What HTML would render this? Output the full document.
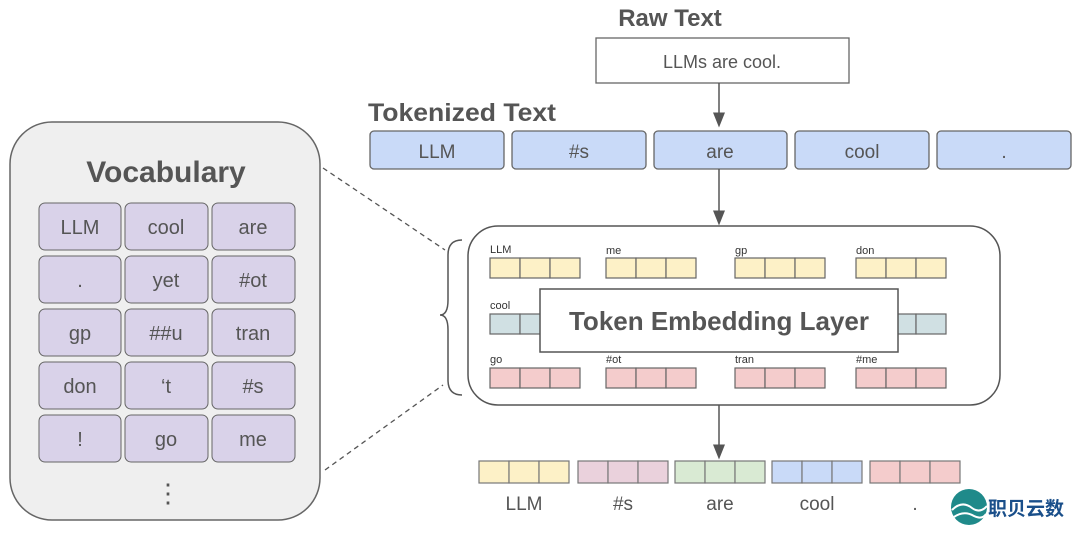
<!DOCTYPE html>
<html><head><meta charset="utf-8"><style>
body{margin:0;background:#fff;width:1080px;height:533px;overflow:hidden}
svg{display:block}
text{font-family:"Liberation Sans",Arial,sans-serif;fill:#555}
</style></head><body>
<svg width="1080" height="533" viewBox="0 0 1080 533" xmlns="http://www.w3.org/2000/svg">
<defs><marker id="a" markerWidth="10" markerHeight="10" refX="5" refY="5" orient="auto"><path d="M0,1 L10,5 L0,9z" fill="#555"/></marker></defs>
<rect x="10" y="122" width="310" height="398" rx="42" fill="#efefef" stroke="#666" stroke-width="1.5"/>
<text x="166" y="182" font-size="30" font-weight="bold" text-anchor="middle">Vocabulary</text>
<g fill="#d9d2e9" stroke="#666" stroke-width="1">
<rect x="39" y="203" width="82" height="47" rx="6"/><rect x="125" y="203" width="83" height="47" rx="6"/><rect x="212" y="203" width="83" height="47" rx="6"/>
<rect x="39" y="256" width="82" height="47" rx="6"/><rect x="125" y="256" width="83" height="47" rx="6"/><rect x="212" y="256" width="83" height="47" rx="6"/>
<rect x="39" y="309" width="82" height="47" rx="6"/><rect x="125" y="309" width="83" height="47" rx="6"/><rect x="212" y="309" width="83" height="47" rx="6"/>
<rect x="39" y="362" width="82" height="47" rx="6"/><rect x="125" y="362" width="83" height="47" rx="6"/><rect x="212" y="362" width="83" height="47" rx="6"/>
<rect x="39" y="415" width="82" height="47" rx="6"/><rect x="125" y="415" width="83" height="47" rx="6"/><rect x="212" y="415" width="83" height="47" rx="6"/>
</g>
<g font-size="20" text-anchor="middle">
<text x="80" y="234">LLM</text><text x="166" y="234">cool</text><text x="253" y="234">are</text>
<text x="80" y="287">.</text><text x="166" y="287">yet</text><text x="253" y="287">#ot</text>
<text x="80" y="340">gp</text><text x="166" y="340">##u</text><text x="253" y="340">tran</text>
<text x="80" y="393">don</text><text x="166" y="393">‘t</text><text x="253" y="393">#s</text>
<text x="80" y="446">!</text><text x="166" y="446">go</text><text x="253" y="446">me</text>
</g>
<text x="168" y="502" font-size="26" text-anchor="middle">⋮</text>
<line x1="323" y1="168" x2="445" y2="250" stroke="#555" stroke-dasharray="5,4" stroke-width="1.3"/>
<line x1="325" y1="470" x2="443" y2="385" stroke="#555" stroke-dasharray="5,4" stroke-width="1.3"/>
<path d="M462,240 Q448,240 448,255 L448,300 Q448,315 440,315 Q448,315 448,330 L448,380 Q448,395 462,395" fill="none" stroke="#555" stroke-width="1.5"/>
<text x="670" y="26" font-size="24" font-weight="bold" text-anchor="middle">Raw Text</text>
<rect x="596" y="38" width="253" height="45" fill="#fff" stroke="#666" stroke-width="1.3"/>
<text x="722" y="68" font-size="18" text-anchor="middle">LLMs are cool.</text>
<line x1="719" y1="83" x2="719" y2="120" stroke="#555" stroke-width="1.5" marker-end="url(#a)"/>
<text x="368" y="121" font-size="25" font-weight="bold" textLength="188" lengthAdjust="spacingAndGlyphs">Tokenized Text</text>
<g fill="#c9daf8" stroke="#666" stroke-width="1.3">
<rect x="370" y="131" width="134" height="38" rx="4"/><rect x="512" y="131" width="134" height="38" rx="4"/><rect x="654" y="131" width="133" height="38" rx="4"/><rect x="795" y="131" width="134" height="38" rx="4"/><rect x="937" y="131" width="134" height="38" rx="4"/>
</g>
<g font-size="19" text-anchor="middle">
<text x="437" y="158">LLM</text><text x="579" y="158">#s</text><text x="720" y="158">are</text><text x="862" y="158">cool</text><text x="1004" y="158">.</text>
</g>
<line x1="719" y1="169" x2="719" y2="218" stroke="#555" stroke-width="1.5" marker-end="url(#a)"/>
<rect x="468" y="226" width="532" height="179" rx="30" fill="#fff" stroke="#555" stroke-width="1.5"/>
<g stroke="#666" stroke-width="1.2">
<g fill="#fdf1c7">
<rect x="490" y="258" width="30" height="20"/><rect x="520" y="258" width="30" height="20"/><rect x="550" y="258" width="30" height="20"/>
<rect x="606" y="258" width="30" height="20"/><rect x="636" y="258" width="30" height="20"/><rect x="666" y="258" width="30" height="20"/>
<rect x="735" y="258" width="30" height="20"/><rect x="765" y="258" width="30" height="20"/><rect x="795" y="258" width="30" height="20"/>
<rect x="856" y="258" width="30" height="20"/><rect x="886" y="258" width="30" height="20"/><rect x="916" y="258" width="30" height="20"/>
</g>
<g fill="#d0e0e3">
<rect x="490" y="314" width="30" height="20"/><rect x="520" y="314" width="30" height="20"/>
<rect x="886" y="314" width="30" height="20"/><rect x="916" y="314" width="30" height="20"/>
</g>
<g fill="#f4cccc">
<rect x="490" y="368" width="30" height="20"/><rect x="520" y="368" width="30" height="20"/><rect x="550" y="368" width="30" height="20"/>
<rect x="606" y="368" width="30" height="20"/><rect x="636" y="368" width="30" height="20"/><rect x="666" y="368" width="30" height="20"/>
<rect x="735" y="368" width="30" height="20"/><rect x="765" y="368" width="30" height="20"/><rect x="795" y="368" width="30" height="20"/>
<rect x="856" y="368" width="30" height="20"/><rect x="886" y="368" width="30" height="20"/><rect x="916" y="368" width="30" height="20"/>
</g>
</g>
<g font-size="11">
<text x="490" y="253" style="fill:#333">LLM</text><text x="606" y="254" style="fill:#333">me</text><text x="735" y="254" style="fill:#333">gp</text><text x="856" y="254" style="fill:#333">don</text>
<text x="490" y="309" style="fill:#333">cool</text>
<text x="490" y="363" style="fill:#333">go</text><text x="606" y="363" style="fill:#333">#ot</text><text x="735" y="363" style="fill:#333">tran</text><text x="856" y="363" style="fill:#333">#me</text>
</g>
<rect x="540" y="289" width="358" height="63" fill="#fff" stroke="#555" stroke-width="1.5"/>
<text x="719" y="330" font-size="26" font-weight="bold" text-anchor="middle">Token Embedding Layer</text>
<line x1="719" y1="405" x2="719" y2="452" stroke="#555" stroke-width="1.5" marker-end="url(#a)"/>
<g stroke="#777" stroke-width="1.2">
<g fill="#fdf1c7"><rect x="479" y="461" width="30" height="22"/><rect x="509" y="461" width="30" height="22"/><rect x="539" y="461" width="30" height="22"/></g>
<g fill="#ead1dc"><rect x="578" y="461" width="30" height="22"/><rect x="608" y="461" width="30" height="22"/><rect x="638" y="461" width="30" height="22"/></g>
<g fill="#d9ead3"><rect x="675" y="461" width="30" height="22"/><rect x="705" y="461" width="30" height="22"/><rect x="735" y="461" width="30" height="22"/></g>
<g fill="#c9daf8"><rect x="772" y="461" width="30" height="22"/><rect x="802" y="461" width="30" height="22"/><rect x="832" y="461" width="30" height="22"/></g>
<g fill="#f4cccc"><rect x="870" y="461" width="30" height="22"/><rect x="900" y="461" width="30" height="22"/><rect x="930" y="461" width="30" height="22"/></g>
</g>
<g font-size="19" text-anchor="middle">
<text x="524" y="510">LLM</text><text x="623" y="510">#s</text><text x="720" y="510">are</text><text x="817" y="510">cool</text><text x="915" y="510">.</text>
</g>
<circle cx="969" cy="507" r="18" fill="#1f8a8a"/>
<path d="M952,510 Q962,500 972,508 Q980,514 987,506" fill="none" stroke="#fff" stroke-width="2"/>
<path d="M954,517 Q964,510 974,516 Q982,520 986,514" fill="none" stroke="#fff" stroke-width="2"/>
<text x="988" y="515" font-size="19" font-weight="bold" style="fill:#1a4f8a;font-family:'Liberation Sans','Noto Sans CJK SC',sans-serif">职贝云数</text>
</svg>
</body></html>
